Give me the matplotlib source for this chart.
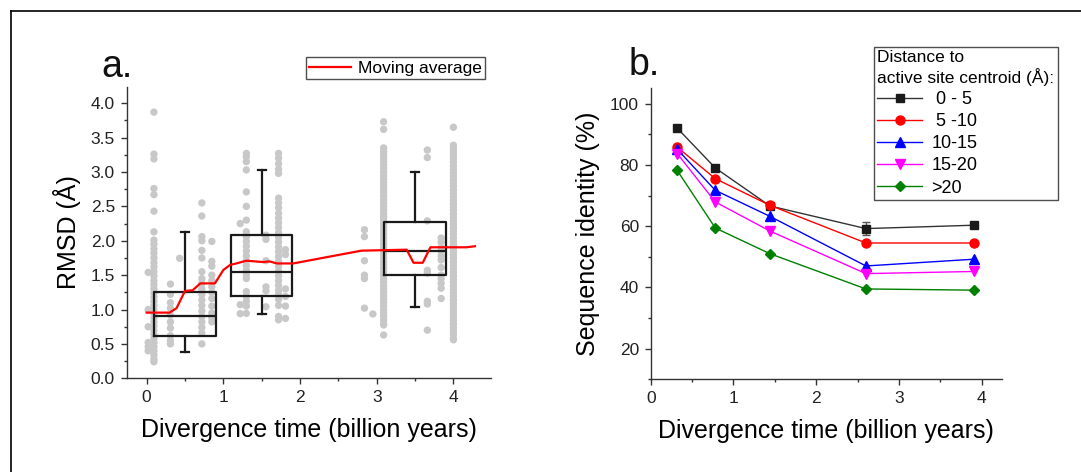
import matplotlib
matplotlib.use("Agg")
import matplotlib.pyplot as plt
from matplotlib.lines import Line2D
from matplotlib.ticker import MultipleLocator, FormatStrFormatter

plt.rcParams['font.family'] = ['Liberation Sans', 'DejaVu Sans']

# ---------------- Panel a data ----------------
col_x = [0.02, 0.095, 0.31, 0.43, 0.72, 0.85, 1.22, 1.30, 1.556, 1.72, 1.81,
         2.84, 2.95, 3.09, 3.66, 3.84, 4.0]

rmsd_c00 = [1.54, 1.00, 0.75, 0.52, 0.46, 0.40]
rmsd_c01 = [3.87, 3.26, 3.19, 2.76, 2.67, 2.43, 2.13, 2.01, 1.95, 1.88, 1.82, 1.75,
            1.68, 1.62, 1.55, 1.49, 1.42, 1.36, 1.30, 1.24, 1.18, 1.12, 1.06, 1.00,
            0.94, 0.88, 0.82, 0.76, 0.70, 0.64, 0.58, 0.52, 0.46, 0.40, 0.34, 0.28, 0.24]
rmsd_c03 = [1.37, 1.22, 1.10, 1.02, 0.92, 0.82, 0.73, 0.62, 0.55, 0.50]
rmsd_c04 = [1.745]
rmsd_c07 = [2.55, 2.36, 2.06, 2.00, 1.86, 1.75, 1.55, 1.45, 1.38, 1.30, 1.22, 1.14,
            1.06, 0.98, 0.90, 0.82, 0.74, 0.66, 0.50]
rmsd_c08 = [1.99, 1.70, 1.63, 1.50, 1.42, 1.33, 1.25, 1.16, 1.05, 0.95, 0.88, 0.82]
rmsd_c12 = [2.25, 1.07, 0.94]
rmsd_c13 = [3.27, 3.22, 3.15, 3.03, 2.71, 2.50, 2.30, 2.13, 2.06, 1.99, 1.92, 1.85,
            1.78, 1.71, 1.64, 1.57, 1.50, 1.45, 1.26, 1.19, 1.12, 1.05, 0.945]
rmsd_c15 = [2.08, 2.02, 1.71, 1.33, 1.27, 1.04]
rmsd_c17 = [3.27, 3.20, 3.12, 3.04, 2.98, 2.62, 2.55, 2.48, 2.40, 2.33, 2.26, 2.19,
            2.12, 2.05, 1.98, 1.91, 1.84, 1.77, 1.70, 1.63, 1.56, 1.49, 1.42, 1.35,
            1.28, 1.22, 1.15, 1.06, 0.90, 0.85]
rmsd_c18 = [1.87, 1.80, 1.30, 1.19, 1.05, 0.87]
rmsd_c28 = [2.16, 2.06, 1.71, 1.50, 1.45, 1.02]
rmsd_c29 = [0.935]
rmsd_c31 = [3.73, 3.62, 3.35, 3.30, 3.25, 3.20, 3.15, 3.10, 3.05, 3.00, 2.95, 2.90,
            2.85, 2.80, 2.75, 2.70, 2.65, 2.60, 2.55, 2.50, 2.45, 2.40, 2.35, 2.30,
            2.25, 2.20, 2.15, 2.10, 2.05, 2.00, 1.95, 1.90, 1.85, 1.80, 1.75, 1.70,
            1.65, 1.60, 1.55, 1.50, 1.45, 1.40, 1.35, 1.30, 1.25, 1.20, 1.15, 1.10,
            1.05, 1.00, 0.95, 0.90, 0.85, 0.80, 0.775, 0.63]
rmsd_c37 = [3.32, 3.21, 2.29, 1.57, 1.53, 1.12, 1.08, 0.70]
rmsd_c38 = [2.04, 1.98, 1.90, 1.85, 1.78, 1.72, 1.61, 1.50, 1.45, 1.38, 1.31, 1.16]
rmsd_c40 = [3.65, 3.39, 3.34, 3.29, 3.24, 3.19, 3.14, 3.09, 3.04, 2.99, 2.94, 2.89,
            2.84, 2.79, 2.74, 2.69, 2.64, 2.59, 2.54, 2.49, 2.44, 2.39, 2.34, 2.29,
            2.24, 2.19, 2.14, 2.09, 2.04, 1.99, 1.94, 1.89, 1.84, 1.79, 1.74, 1.69,
            1.64, 1.59, 1.54, 1.49, 1.44, 1.39, 1.34, 1.29, 1.24, 1.19, 1.14, 1.09,
            1.04, 0.99, 0.94, 0.89, 0.84, 0.79, 0.74, 0.69, 0.64, 0.58, 0.56]

rmsd_cols = [rmsd_c00, rmsd_c01, rmsd_c03, rmsd_c04, rmsd_c07, rmsd_c08, rmsd_c12,
             rmsd_c13, rmsd_c15, rmsd_c17, rmsd_c18, rmsd_c28, rmsd_c29, rmsd_c31,
             rmsd_c37, rmsd_c38, rmsd_c40]

box_pos = [0.5, 1.5, 3.5]
box_q1 = [0.62, 1.20, 1.50]
box_med = [0.90, 1.55, 1.85]
box_q3 = [1.25, 2.08, 2.27]
box_lo = [0.38, 0.94, 1.03]
box_hi = [2.13, 3.03, 3.00]

mavg_x = [0.0, 0.30, 0.39, 0.50, 0.60, 0.70, 0.89, 1.00, 1.09, 1.17, 1.30, 1.41,
          1.52, 1.60, 1.70, 1.91, 2.80, 3.39, 3.48, 3.60, 3.70, 4.17, 4.28]
mavg_y = [0.955, 0.955, 1.02, 1.27, 1.28, 1.38, 1.38, 1.575, 1.65, 1.67, 1.71, 1.70,
          1.69, 1.70, 1.67, 1.67, 1.856, 1.87, 1.68, 1.68, 1.905, 1.905, 1.92]

# ---------------- Panel b data ----------------
time_b = [0.32, 0.78, 1.44, 2.60, 3.90]
ident_0_5 = [92.0, 79.0, 66.6, 59.2, 60.3]
err_0_5 = [0.6, 0.6, 0.5, 2.2, 0.5]
ident_5_10 = [85.8, 75.5, 66.8, 54.5, 54.5]
ident_10_15 = [85.1, 71.7, 63.2, 47.0, 49.2]
ident_15_20 = [83.7, 67.9, 58.4, 44.5, 45.2]
ident_gt20 = [78.2, 59.4, 51.0, 39.5, 39.1]
series_labels = [' 0 - 5', ' 5 -10', '10-15', '15-20', '>20']

# ---------------- Figure ----------------
W, H = 1081, 472
fig = plt.figure(figsize=(W / 100, H / 100), dpi=100)
fig.patch.set_facecolor('white')

tick_col = '#222222'
spine_col = '#333333'


def style_axes(ax):
    for s in ['top', 'right']:
        ax.spines[s].set_visible(False)
    for s in ['left', 'bottom']:
        ax.spines[s].set_color(spine_col)
        ax.spines[s].set_linewidth(1.0)
    ax.tick_params(which='major', direction='out', length=4.5, width=1.0,
                   colors=spine_col, labelcolor=tick_col, labelsize=12.5, pad=4)
    ax.tick_params(which='minor', direction='out', length=2.5, width=1.0,
                   colors=spine_col)


# Panel a
axa = fig.add_axes([126.7 / W, 1 - 378.3 / H, (491 - 126.7) / W, (378.3 - 86.7) / H])
for xc, vals in zip(col_x, rmsd_cols):
    axa.scatter([xc] * len(vals), vals, s=28, color='#c8c8c8', edgecolors='none',
                zorder=1)

stats = []
for q1, med, q3, lo, hi in zip(box_q1, box_med, box_q3, box_lo, box_hi):
    stats.append(dict(q1=q1, med=med, q3=q3, whislo=lo, whishi=hi, fliers=[]))
lp = dict(color='#1a1a1a', linewidth=1.6)
axa.bxp(stats, positions=box_pos, widths=0.8, showfliers=False,
        boxprops=lp, whiskerprops=lp, capprops=lp, medianprops=lp,
        capwidths=0.1, manage_ticks=False, zorder=2)

line_ma, = axa.plot(mavg_x, mavg_y, color='#ff0000', lw=1.6, zorder=3,
                    label='Moving average')

axa.set_xlim(-0.26, 4.49)
axa.set_ylim(0, 4.24)
axa.xaxis.set_major_locator(MultipleLocator(1))
axa.xaxis.set_minor_locator(MultipleLocator(0.5))
axa.yaxis.set_major_locator(MultipleLocator(0.5))
axa.yaxis.set_minor_locator(MultipleLocator(0.25))
axa.yaxis.set_major_formatter(FormatStrFormatter('%.1f'))
style_axes(axa)
axa.set_xlabel('Divergence time (billion years)', fontsize=18, labelpad=9)
axa.set_ylabel('RMSD (Å)', fontsize=18, labelpad=7)

lega = axa.legend(handles=[line_ma], loc='upper right',
                  bbox_to_anchor=(485 / W, 1 - 57.3 / H),
                  bbox_transform=fig.transFigure, borderaxespad=0,
                  fontsize=12.5, frameon=True, fancybox=False, handlelength=2.4,
                  handletextpad=0.4, borderpad=0.2)
lega.get_frame().set_edgecolor('#222222')
lega.get_frame().set_linewidth(1.0)

# Panel b
axb = fig.add_axes([650.7 / W, 1 - 379.3 / H, (1001.7 - 650.7) / W, (379.3 - 88.3) / H])
colors = ['#1a1a1a', '#ff0000', '#0000ff', '#ff00ff', '#008000']
markers = ['s', 'o', '^', 'v', 'D']
msizes = [5.5, 6.5, 6.5, 6.5, 5.5]
lcolors = ['#333333', '#ff0000', '#0000ff', '#ff00ff', '#008000']
ydata = [ident_0_5, ident_5_10, ident_10_15, ident_15_20, ident_gt20]
handles = []
for i, (yv, c, m, ms, lc, lab) in enumerate(zip(ydata, colors, markers, msizes,
                                                 lcolors, series_labels)):
    if i == 0:
        axb.errorbar(time_b, yv, yerr=err_0_5, fmt='none', ecolor='#555555',
                     elinewidth=1.0, capsize=3, zorder=2)
    h, = axb.plot(time_b, yv, color=lc, lw=1.0, marker=m, ms=ms, mfc=c, mec=c,
                  label=lab, zorder=3)
    handles.append(h)

axb.set_xlim(0, 4.24)
axb.set_ylim(10, 105)
axb.xaxis.set_major_locator(MultipleLocator(1))
axb.xaxis.set_minor_locator(MultipleLocator(0.5))
axb.yaxis.set_major_locator(MultipleLocator(20))
axb.yaxis.set_minor_locator(MultipleLocator(10))
style_axes(axb)
axb.set_xlabel('Divergence time (billion years)', fontsize=18, labelpad=9)
axb.set_ylabel('Sequence identity (%)', fontsize=18, labelpad=7)

legb = axb.legend(handles=handles, loc='upper right',
                  bbox_to_anchor=(1058 / W, 1 - 46.7 / H),
                  bbox_transform=fig.transFigure, borderaxespad=0,
                  title='Distance to\nactive site centroid (Å):',
                  title_fontsize=12.5, fontsize=13, frameon=True, fancybox=False,
                  handlelength=2.5, handletextpad=0.5, borderpad=0.2,
                  labelspacing=0.28, alignment='left')
legb.get_frame().set_edgecolor('#222222')
legb.get_frame().set_linewidth(1.0)

# Panel labels
fig.text(101.7 / W, 1 - 76.7 / H, 'a.', fontsize=27, va='baseline', ha='left',
         color='#111111')
fig.text(628.3 / W, 1 - 75 / H, 'b.', fontsize=27, va='baseline', ha='left',
         color='#111111')

# Page frame
fig.add_artist(Line2D([10.7 / W, 10.7 / W], [0, 1 - 11.3 / H],
                      transform=fig.transFigure, color='black', lw=1.2))
fig.add_artist(Line2D([10.7 / W, 1], [1 - 11.3 / H, 1 - 11.3 / H],
                      transform=fig.transFigure, color='black', lw=1.2))

fig.savefig('out.png', dpi=100)
